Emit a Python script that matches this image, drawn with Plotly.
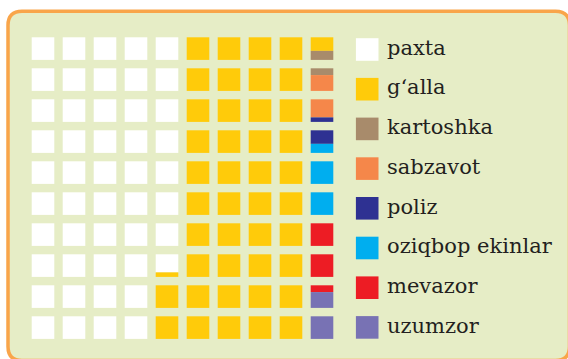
import plotly.graph_objects as go

# Sown-area structure, percent of total (100 cells = 100 %)
categories = ["paxta", "g‘alla", "kartoshka", "sabzavot", "poliz",
              "oziqbop ekinlar", "mevazor", "uzumzor"]
shares = [47.8, 42.8, 0.7, 1.5, 0.8, 2.4, 2.3, 1.7]
colors = ["#FFFFFF", "#FFCB0A", "#A88B6B", "#F5874A", "#2E3192",
          "#00AEEF", "#ED1C24", "#7872B4"]

W, H = 568, 359
PITCH = 31.0          # px between cell origins
CELL = 22.6 / PITCH   # cell size in axis units
X0_PX, Y0_PX = 31.7, 37.3
N_ROWS = 10

fig = go.Figure()

# Waffle: cells are filled column by column, top to bottom;
# a category may cover only part of a cell (split horizontally).
starts = [sum(shares[:i]) for i in range(len(shares))]
for name, col, s0, v in zip(categories, colors, starts, shares):
    s1 = s0 + v
    xs, bases, hs = [], [], []
    for k in range(100):
        lo, hi = max(s0, k), min(s1, k + 1)
        if hi - lo <= 1e-9:
            continue
        c, r = divmod(k, N_ROWS)
        xs.append(c)
        bases.append(r + (lo - k) * CELL)
        hs.append((hi - lo) * CELL)
    fig.add_trace(go.Bar(
        x=xs, y=hs, base=bases, width=CELL, offset=0,
        marker=dict(color=col, line=dict(width=0)),
        name=name, hoverinfo="skip", showlegend=False,
    ))

# Legend: squares + labels
LEG_X = (367.2 - X0_PX) / PITCH
TXT_X = (385.0 - X0_PX) / PITCH
LEG_Y0 = (49.5 - Y0_PX) / PITCH
LEG_STEP = 39.7 / PITCH
TXT_DY = -1.8 / PITCH
leg_y = [LEG_Y0 + i * LEG_STEP for i in range(len(categories))]
fig.add_trace(go.Scatter(
    x=[LEG_X] * len(categories), y=leg_y, mode="markers",
    marker=dict(symbol="square", size=22.6, color=colors, line=dict(width=0)),
    hoverinfo="skip", showlegend=False,
))
for name, y in zip(categories, leg_y):
    fig.add_annotation(
        x=TXT_X, y=y + TXT_DY, xref="x", yref="y", text=name, showarrow=False,
        xanchor="left", yanchor="middle",
        font=dict(family="DejaVu Serif", size=21, color="#231F20"),
    )

# Rounded panel with orange frame
def px(x):
    return x / W

def py(y):
    return 1 - y / H

L, T, R, B, RAD = 8.0, 11.2, 569.5, 360.5, 14.0
path = (
    f"M {px(L + RAD)} {py(T)} L {px(R - RAD)} {py(T)} "
    f"Q {px(R)} {py(T)} {px(R)} {py(T + RAD)} "
    f"L {px(R)} {py(B - RAD)} Q {px(R)} {py(B)} {px(R - RAD)} {py(B)} "
    f"L {px(L + RAD)} {py(B)} Q {px(L)} {py(B)} {px(L)} {py(B - RAD)} "
    f"L {px(L)} {py(T + RAD)} Q {px(L)} {py(T)} {px(L + RAD)} {py(T)} Z"
)
fig.add_shape(type="path", path=path, xref="paper", yref="paper",
              fillcolor="#E6EDC6", line=dict(color="#F9A54A", width=3.5),
              layer="below")

x_lo = -X0_PX / PITCH
y_lo = -Y0_PX / PITCH
fig.update_layout(
    width=W, height=H, margin=dict(l=0, r=0, t=0, b=0),
    paper_bgcolor="#FFFFFF", plot_bgcolor="rgba(0,0,0,0)",
    barmode="overlay", showlegend=False,
    xaxis=dict(range=[x_lo, x_lo + W / PITCH], visible=False, fixedrange=True),
    yaxis=dict(range=[y_lo + H / PITCH, y_lo], visible=False, fixedrange=True),
)

fig.write_html("out.html", config={"displayModeBar": False})
